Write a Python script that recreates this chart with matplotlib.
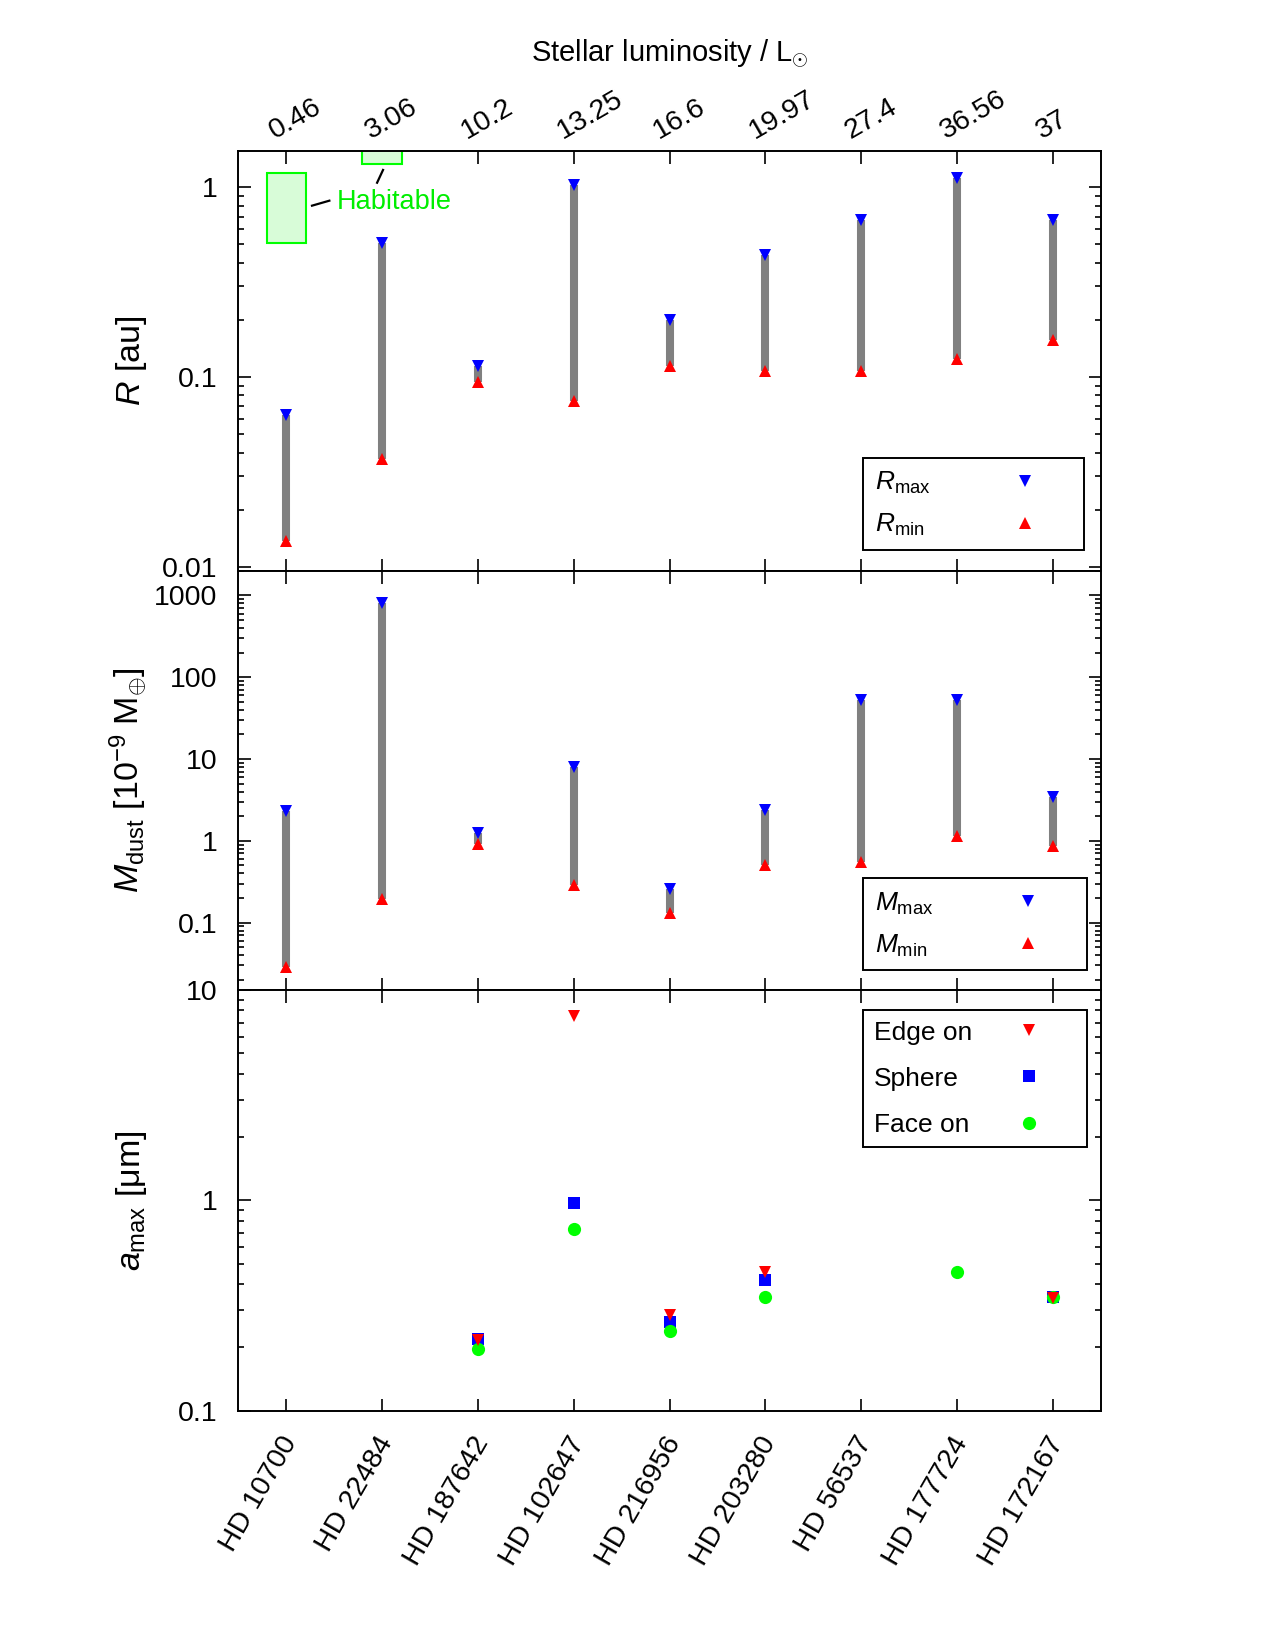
import numpy as np
import matplotlib
matplotlib.use("Agg")
import matplotlib.pyplot as plt
from matplotlib.patches import Rectangle
from matplotlib.lines import Line2D
from matplotlib.ticker import LogLocator, NullFormatter, FixedLocator, FixedFormatter
import matplotlib.transforms as mtransforms

plt.rcParams['font.family'] = ['Liberation Sans', 'DejaVu Sans']
plt.rcParams['mathtext.fontset'] = 'custom'
plt.rcParams['mathtext.rm'] = 'Liberation Sans'
plt.rcParams['mathtext.it'] = 'Liberation Sans:italic'
plt.rcParams['mathtext.bf'] = 'Liberation Sans:bold'
plt.rcParams['mathtext.sf'] = 'Liberation Sans'

# ---------------- data ----------------
stars = ['HD 10700', 'HD 22484', 'HD 187642', 'HD 102647', 'HD 216956',
         'HD 203280', 'HD 56537', 'HD 177724', 'HD 172167']
luminosity = ['0.46', '3.06', '10.2', '13.25', '16.6', '19.97', '27.4', '36.56', '37']

r_max = [0.063, 0.51, 0.115, 1.03, 0.20, 0.44, 0.67, 1.12, 0.67]
r_min = [0.0136, 0.037, 0.094, 0.0745, 0.114, 0.108, 0.108, 0.124, 0.156]

m_max = [2.3, 800, 1.23, 7.9, 0.257, 2.35, 52, 52, 3.45]
m_min = [0.029, 0.195, 0.92, 0.29, 0.13, 0.51, 0.55, 1.16, 0.86]

nan = np.nan
a_edge = [nan, nan, 0.216, 7.5, 0.286, 0.456, nan, nan, 0.345]
a_sphere = [nan, nan, 0.22, 0.97, 0.264, 0.417, nan, nan, 0.347]
a_face = [nan, nan, 0.197, 0.733, 0.239, 0.347, nan, 0.459, 0.347]

# habitable zones (star index, inner, outer)
hz_star = [0, 1]
hz_inner = [0.511, 1.32]
hz_outer = [1.194, 2.6]

# ---------------- figure ----------------
FS_TICK = 20.5
FS_LAB = 24.5
FS_TITLE = 21
FS_LEG = 19
FS_HAB = 19.5

fig = plt.figure(figsize=(12.75, 16.5), dpi=100)
left, width = 0.1869, 0.6766
ax1 = fig.add_axes([left, 0.6541, width, 0.2546])
ax2 = fig.add_axes([left, 0.4000, width, 0.2541])
ax3 = fig.add_axes([left, 0.1450, width, 0.2550])

x = np.arange(len(stars))

BLUE = '#0000ff'
RED = '#ff0000'
GREEN = '#00ee00'
GREY = '#808080'


def style_axis(ax, yticks, ylabels, ylim):
    ax.set_yscale('log')
    ax.set_ylim(*ylim)
    ax.set_xlim(-0.5, len(stars) - 0.5)
    ax.yaxis.set_major_locator(FixedLocator(yticks))
    ax.yaxis.set_major_formatter(FixedFormatter(ylabels))
    ax.yaxis.set_minor_locator(LogLocator(base=10, subs=np.arange(2, 10), numticks=30))
    ax.yaxis.set_minor_formatter(NullFormatter())
    ax.set_xticks(x)
    ax.tick_params(which='both', direction='in', top=True, right=True,
                   labelsize=FS_TICK, width=1.2, colors='black')
    ax.tick_params(which='major', length=9)
    ax.tick_params(which='minor', length=4.5)
    ax.tick_params(axis='y', pad=15)
    for s in ax.spines.values():
        s.set_linewidth(1.4)
    ax.yaxis.set_label_coords(-0.103, 0.5)


def left_align_legend(leg):
    """Left-align legend labels while keeping the markers in one column."""
    try:
        fig.canvas.draw()
        r = fig.canvas.get_renderer()
        texts = leg.get_texts()
        widths = [t.get_window_extent(r).width for t in texts]
        maxw = max(widths)
        col = leg._legend_handle_box.get_children()[0]
        rows = col.get_children()
        for row, w in zip(rows, widths):
            row.sep = row.sep + (maxw - w) * 72.0 / fig.dpi
    except Exception:
        pass


# ---- panel 1: radius ----
style_axis(ax1, [0.01, 0.1, 1], ['0.01', '0.1', '1'], (0.00953, 1.56))
ax1.vlines(x, r_min, r_max, color=GREY, lw=5.8, zorder=1)
ax1.plot(x, r_max, ls='none', marker='v', ms=9, color=BLUE, mew=0, zorder=3)
ax1.plot(x, r_min, ls='none', marker='^', ms=9, color=RED, mew=0, zorder=3)
for i, lo, hi in zip(hz_star, hz_inner, hz_outer):
    ax1.add_patch(Rectangle((x[i] - 0.205, lo), 0.41, hi - lo, facecolor='#d8fcd8',
                            edgecolor='#00ff00', lw=1.5, zorder=2))
ax1.plot([0.269, 0.45], [0.80, 0.85], color='black', lw=1.6, zorder=2)
ax1.plot([0.948, 1.010], [1.057, 1.234], color='black', lw=1.6, zorder=2)
ax1.text(0.522, 0.84, 'Habitable', color=GREEN, fontsize=FS_HAB, ha='left', va='center')
ax1.set_ylabel(r'$R$ [au]', fontsize=FS_LAB)
ax1.tick_params(axis='x', labelbottom=False)

# top luminosity labels
trans = mtransforms.blended_transform_factory(ax1.transData, ax1.transAxes)
for xi, lab in zip(x, luminosity):
    t = mtransforms.offset_copy(trans, fig=fig, x=-11, y=12, units='dots')
    ax1.text(xi, 1.0, lab, transform=t, rotation=30, rotation_mode='anchor',
             ha='left', va='baseline', fontsize=FS_TICK)
fig.text(left + width / 2, 0.9625, r'Stellar luminosity / L$_{\odot}$',
         ha='center', va='baseline', fontsize=FS_TITLE)

h1 = [Line2D([], [], ls='none', marker='v', ms=9, color=BLUE, mew=0),
      Line2D([], [], ls='none', marker='^', ms=9, color=RED, mew=0)]
leg1 = ax1.legend(h1, [r'$R_{\rm max}$', r'$R_{\rm min}$'], loc='upper left',
                  bbox_to_anchor=(0.7245, 0.2676), borderaxespad=0, markerfirst=False,
                  fancybox=False, edgecolor='black', framealpha=1, fontsize=FS_LEG,
                  borderpad=0.45, labelspacing=0.6, handletextpad=1.8,
                  handlelength=3.55, numpoints=1)
leg1.get_frame().set_linewidth(1.4)

# ---- panel 2: dust mass ----
style_axis(ax2, [0.1, 1, 10, 100, 1000], ['0.1', '1', '10', '100', '1000'], (0.015, 2000))
ax2.vlines(x, m_min, m_max, color=GREY, lw=5.8, zorder=1)
ax2.plot(x, m_max, ls='none', marker='v', ms=9, color=BLUE, mew=0, zorder=3)
ax2.plot(x, m_min, ls='none', marker='^', ms=9, color=RED, mew=0, zorder=3)
ax2.set_ylabel(r'$M_{\rm dust}$ [10$^{-9}$ M$_{\oplus}$]', fontsize=FS_LAB)
ax2.tick_params(axis='x', labelbottom=False)
leg2 = ax2.legend(h1, [r'$M_{\rm max}$', r'$M_{\rm min}$'], loc='upper left',
                  bbox_to_anchor=(0.7245, 0.266), borderaxespad=0, markerfirst=False,
                  fancybox=False, edgecolor='black', framealpha=1, fontsize=FS_LEG,
                  borderpad=0.45, labelspacing=0.6, handletextpad=1.8,
                  handlelength=3.55, numpoints=1)
leg2.get_frame().set_linewidth(1.4)

# ---- panel 3: max grain size ----
style_axis(ax3, [0.1, 1, 10], ['0.1', '1', '10'], (0.1, 10))
ax3.plot(x, a_sphere, ls='none', marker='s', ms=9, color=BLUE, mew=0, zorder=3)
ax3.plot(x, a_face, ls='none', marker='o', ms=9.5, color='#00ff00', mew=0, zorder=4)
ax3.plot(x, a_edge, ls='none', marker='v', ms=9, color=RED, mew=0, zorder=5)
ax3.set_ylabel(r'$a_{\rm max}$ [μm]', fontsize=FS_LAB)
ax3.set_xticklabels(stars, rotation=60, ha='right', va='center', rotation_mode='anchor')
ax3.tick_params(axis='x', pad=20)
shift = mtransforms.ScaledTranslation(5 / 100, 0, fig.dpi_scale_trans)
for lbl in ax3.get_xticklabels():
    lbl.set_transform(lbl.get_transform() + shift)
h3 = [Line2D([], [], ls='none', marker='v', ms=9, color=RED, mew=0),
      Line2D([], [], ls='none', marker='s', ms=9, color=BLUE, mew=0),
      Line2D([], [], ls='none', marker='o', ms=9.5, color='#00ff00', mew=0)]
leg3 = ax3.legend(h3, ['Edge on', 'Sphere', 'Face on'], loc='upper left',
                  bbox_to_anchor=(0.7245, 0.9525), borderaxespad=0, markerfirst=False,
                  fancybox=False, edgecolor='black', framealpha=1, fontsize=FS_LEG,
                  borderpad=0.4, labelspacing=0.84, handletextpad=0.34,
                  handlelength=3.62, numpoints=1)
leg3.get_frame().set_linewidth(1.4)

for lg in (leg1, leg2, leg3):
    left_align_legend(lg)

fig.savefig('out.png', dpi=100)
